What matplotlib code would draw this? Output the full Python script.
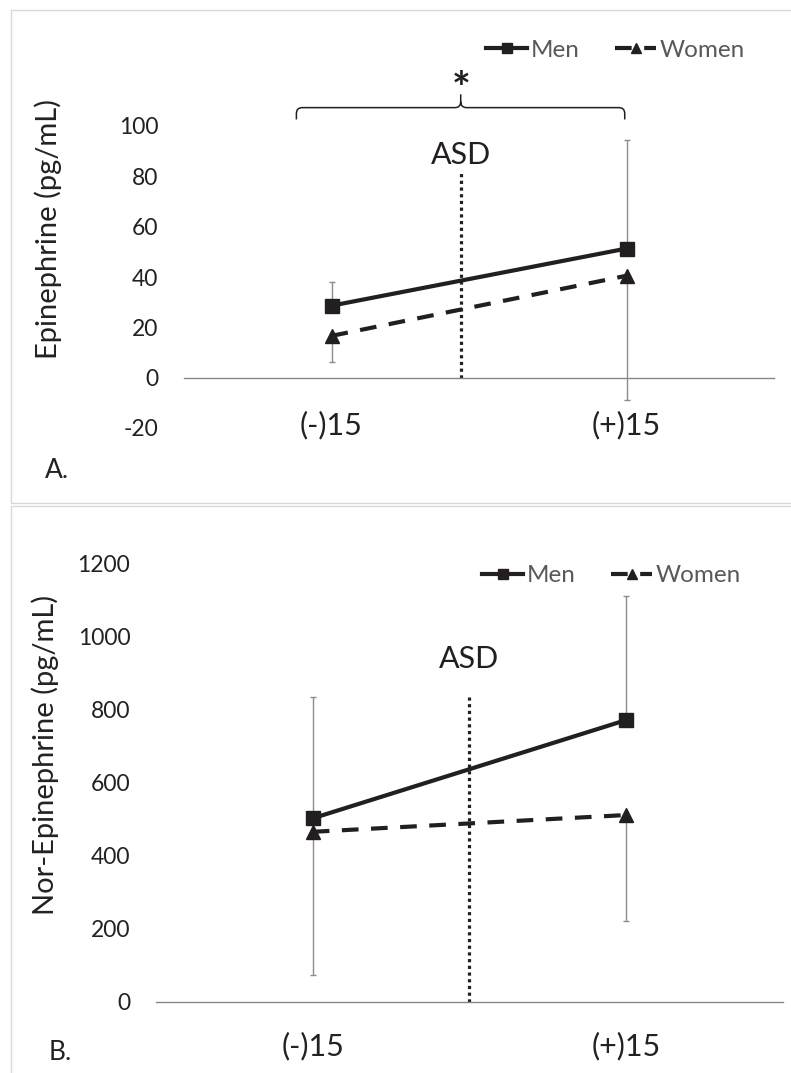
"""
Epinephrine and nor-epinephrine before/after ASD, men vs women.
Two stacked Excel-style panels (A and B).
"""

import numpy as np
import matplotlib
matplotlib.use("Agg")
import matplotlib.pyplot as plt
from matplotlib.lines import Line2D
from matplotlib.patches import Rectangle, PathPatch
from matplotlib.path import Path

plt.rcParams["font.family"] = ["Lato", "DejaVu Sans"]
plt.rcParams["axes.unicode_minus"] = False

W, H = 791, 1073

KATEGORIER = ["(-)15", "(+)15"]
X = np.array([0, 1])

# Panel A: epinephrine (pg/mL)
EPI_MEN       = [28.6, 51.3]
EPI_MEN_ERR   = [9.6, 43.2]     # upper only
EPI_WOMEN     = [16.6, 40.5]
EPI_WOMEN_ERR = [10.4, 49.2]    # lower only
EPI_ASD_X     = 0.44
EPI_ASD_TOPP  = 82.5
EPI_ASD_TEKST = 84.9            # grunnlinje for "ASD"
EPI_YTICKS    = [-20, 0, 20, 40, 60, 80, 100]

# Panel B: nor-epinephrine (pg/mL)
NE_MEN       = [502, 771]
NE_MEN_ERR   = [333, 340]
NE_WOMEN     = [465, 511]
NE_WOMEN_ERR = [392, 289]
NE_ASD_X     = 0.497
NE_ASD_TOPP  = 834
NE_ASD_TEKST = 913
NE_YTICKS    = [0, 200, 400, 600, 800, 1000, 1200]

SVART = "#231f20"
GRAA  = "#8c8c8c"
TEKST = "#222222"


def px_ax(ax_left, ax_right, ax_top, ax_bottom):
    return [ax_left / W, 1 - ax_bottom / H, (ax_right - ax_left) / W, (ax_bottom - ax_top) / H]


def tegn_panel(ax, men, men_err, women, women_err, asd_x, asd_top, asd_tekst,
               yticks, ylabel, pad_x):
    ax.set_xlim(-0.5, 1.5)
    ax.set_ylim(yticks[0], yticks[-1])

    # ASD-linje
    ax.plot([asd_x, asd_x], [0, asd_top], color=SVART, lw=2.3,
            linestyle=(0, (1, 1.1)), dash_capstyle="butt", zorder=2)

    # feilstolper (menn opp, kvinner ned)
    ax.errorbar(X, men, yerr=[np.zeros(2), men_err], fmt="none",
                ecolor=GRAA, elinewidth=1, capsize=2.5, capthick=1, zorder=3)
    ax.errorbar(X, women, yerr=[women_err, np.zeros(2)], fmt="none",
                ecolor=GRAA, elinewidth=1, capsize=2.5, capthick=1, zorder=3)

    ax.plot(X, men, color=SVART, lw=3, marker="s", markersize=10, zorder=5)
    ax.plot(X, women, color=SVART, lw=3, linestyle=(0, (4, 3)),
            dash_capstyle="butt", marker="^", markersize=10, zorder=4)

    ax.text(asd_x, asd_tekst, "ASD", ha="center", va="baseline", fontsize=22,
            color=SVART)

    for s in ["top", "right", "left"]:
        ax.spines[s].set_visible(False)
    ax.spines["bottom"].set_position(("data", 0))
    ax.spines["bottom"].set_color("#868686")
    ax.spines["bottom"].set_linewidth(1.0)

    ax.set_xticks(X, KATEGORIER)
    ax.set_yticks(yticks)
    ax.tick_params(axis="x", length=0, pad=pad_x, labelsize=22, labelcolor=TEKST)
    ax.tick_params(axis="y", length=0, pad=18.5, labelsize=16.5, labelcolor=TEKST)
    ax.set_ylabel(ylabel, fontsize=21, color=TEKST)
    ax.patch.set_visible(False)


def legende(fig, x_px, y_px):
    handles = [
        Line2D([], [], color=SVART, lw=3, marker="s", markersize=7),
        Line2D([], [], color=SVART, lw=3, linestyle=(0, (4, 3)),
               dash_capstyle="butt", marker="^", markersize=7),
    ]
    fig.legend(handles, ["Men", "Women"], loc="center left",
               bbox_to_anchor=(x_px / W, 1 - y_px / H), bbox_transform=fig.transFigure,
               ncol=2, frameon=False, fontsize=17.5, labelcolor="#595959",
               handlelength=1.7, handletextpad=0.15, columnspacing=1.45,
               borderpad=0, borderaxespad=0)


def main():
    fig = plt.figure(figsize=(W / 100, H / 100), dpi=100)

    # panelrammer
    fig.patches.append(Rectangle((11 / W, 1 - 503 / H), 1.0, 493 / H,
                                 transform=fig.transFigure, fill=False,
                                 edgecolor="#d9d9d9", lw=1.0))
    fig.patches.append(Rectangle((11 / W, -0.05), 1.0, 1 - 506 / H + 0.05,
                                 transform=fig.transFigure, fill=False,
                                 edgecolor="#d9d9d9", lw=1.0))

    ax_a = fig.add_axes(px_ax(184, 774, 126, 428))
    tegn_panel(ax_a, EPI_MEN, EPI_MEN_ERR, EPI_WOMEN, EPI_WOMEN_ERR,
               EPI_ASD_X, EPI_ASD_TOPP, EPI_ASD_TEKST, EPI_YTICKS,
               "Epinephrine (pg/mL)", 24)
    ax_a.yaxis.set_label_coords((48 - 184) / 590, (428 - 229) / 302)
    ax_a.yaxis.label.set_va("center")

    # klamme med stjerne over panel A
    x0, x1, xm = -0.119, 0.994, 0.438
    yb, yh, yt = 102.6, 107.3, 112.6
    dx, dy = 0.02, 2.4
    verts = [(x0, yb), (x0, yh - dy), (x0, yh), (x0 + dx, yh),
             (xm - dx, yh), (xm, yh), (xm, yh + dy), (xm, yt),
             (xm, yh + dy), (xm, yh), (xm + dx, yh),
             (x1 - dx, yh), (x1, yh), (x1, yh - dy), (x1, yb)]
    codes = [Path.MOVETO, Path.LINETO, Path.CURVE3, Path.CURVE3,
             Path.LINETO, Path.CURVE3, Path.CURVE3, Path.LINETO,
             Path.MOVETO, Path.CURVE3, Path.CURVE3,
             Path.LINETO, Path.CURVE3, Path.CURVE3, Path.LINETO]
    ax_a.add_patch(PathPatch(Path(verts, codes), fill=False, edgecolor=SVART,
                             lw=1.1, clip_on=False))
    ax_a.text(xm, 109.0, "*", ha="center", va="baseline", fontsize=32,
              fontweight="bold", color=SVART, clip_on=False)

    ax_b = fig.add_axes(px_ax(156, 783, 563.3, 1001.7))
    tegn_panel(ax_b, NE_MEN, NE_MEN_ERR, NE_WOMEN, NE_WOMEN_ERR,
               NE_ASD_X, NE_ASD_TOPP, NE_ASD_TEKST, NE_YTICKS,
               "Nor-Epinephrine (pg/mL)", 22)
    ax_b.yaxis.set_label_coords((45 - 156) / 627, (1001.7 - 755) / 438.4)
    ax_b.yaxis.label.set_va("center")

    legende(fig, 486, 50)
    legende(fig, 482, 575.5)

    fig.text(45 / W, 1 - 470 / H, "A.", ha="left", va="center", fontsize=19, color=TEKST)
    fig.text(49 / W, 1 - 1053 / H, "B.", ha="left", va="center", fontsize=19, color=TEKST)

    fig.savefig("out.png", dpi=100)
    plt.close(fig)


if __name__ == "__main__":
    main()
